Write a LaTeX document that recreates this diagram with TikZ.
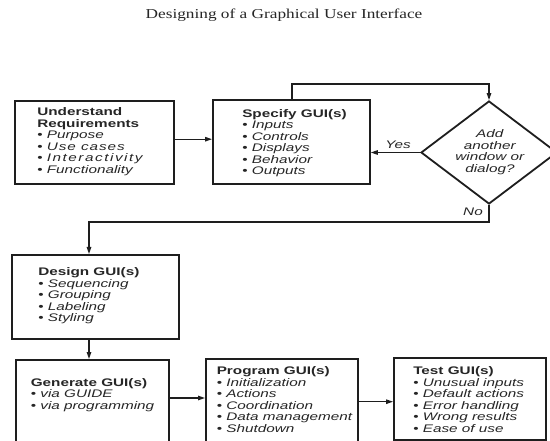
\documentclass[tikz,border=0pt]{standalone}
\usepackage{fontspec}
\setmainfont{Liberation Sans}
\newfontfamily\titlefont{Liberation Serif}
\usetikzlibrary{arrows.meta,shapes.geometric}
\definecolor{ink}{HTML}{1E1E1E}
\definecolor{txtc}{HTML}{262626}
\newcommand{\spaced}[2]{{\itshape\addfontfeature{LetterSpace=#1}#2}}
\begin{document}
\begin{tikzpicture}[x=1bp,y=-1bp,
  box/.style={draw=ink, line width=1.8bp, rectangle, inner sep=0pt, anchor=north west},
  dia/.style={draw=ink, line width=1.8bp, diamond, inner sep=0pt},
  arr/.style={draw=ink, line width=1.2bp, -{Triangle[length=7bp,width=4.5bp]}},
  txt/.style={anchor=north west, inner sep=0pt, align=left, text=txtc, xscale=1.39, transform shape, font=\fontsize{11bp}{11.5bp}\selectfont},
  lbl/.style={inner sep=0pt, text=txtc, xscale=1.39, transform shape, font=\fontsize{11bp}{11.5bp}\selectfont\itshape},
  ]
\useasboundingbox (0,0) rectangle (550,441);
\fill[white] (0,0) rectangle (550,441);
\clip (0,0) rectangle (550,441);

% title
\node[anchor=base, inner sep=0pt, text=txtc, xscale=1.27, transform shape, font=\titlefont\fontsize{13.6bp}{16bp}\selectfont] (title) at (284,19) {Designing of a Graphical User Interface};

% boxes
\node[box, minimum width=159bp, minimum height=83bp] (b1) at (14,100) {};
\node[box, minimum width=157bp, minimum height=84bp] (b2) at (212,99) {};
\node[dia, minimum width=136bp, minimum height=103bp] (d) at (489,152.5) {};
\node[box, minimum width=167bp, minimum height=84bp] (b3) at (11,254) {};
\node[box, minimum width=153bp, minimum height=110bp] (b4) at (15,359) {};
\node[box, minimum width=152bp, minimum height=110bp] (b5) at (205,358) {};
\node[box, minimum width=152bp, minimum height=82bp] (b6) at (393,357) {};

% texts
\node[txt] (t1) at (37,107.5) {\textbf{Understand}\\\textbf{Requirements}\\• \textit{Purpose}\\• \spaced{6}{Use cases}\\• \spaced{10}{Interactivity}\\• \textit{Functionality}};
\node[txt] (t2) at (242,109) {\textbf{Specify GUI(s)}\\• \textit{Inputs}\\• \textit{Controls}\\• \textit{Displays}\\• \textit{Behavior}\\• \textit{Outputs}};
\node[txt, anchor=center, align=center] (t3) at (490,152) {\textit{Add}\\\textit{another}\\\textit{window or}\\\textit{dialog?}};
\node[txt] (t4) at (38,267.5) {\textbf{Design GUI(s)}\\• \textit{Sequencing}\\• \textit{Grouping}\\• \textit{Labeling}\\• \textit{Styling}};
\node[txt] (t5) at (30.5,378) {\textbf{Generate GUI(s)}\\• \textit{via GUIDE}\\• \textit{via programming}};
\node[txt] (t6) at (216.5,366.5) {\textbf{Program GUI(s)}\\• \textit{Initialization}\\• \textit{Actions}\\• \textit{Coordination}\\• \textit{Data management}\\• \textit{Shutdown}};
\node[txt] (t7) at (413,366.5) {\textbf{Test GUI(s)}\\• \textit{Unusual inputs}\\• \textit{Default actions}\\• \textit{Error handling}\\• \textit{Wrong results}\\• \textit{Ease of use}};

% labels
\node[lbl] (yes) at (398,145) {Yes};
\node[lbl] (no) at (473,212) {No};

% connectors
\draw[arr] ([yshift=3.2bp]b1.east) -- ([yshift=3.2bp]b1.east -| b2.west);
\coordinate (lt) at (292,84);
\draw[arr] (lt |- b2.north) -- (lt) -| (d.north);
\draw[arr] (d.west) -- (d.west -| b2.east);
\coordinate (nt) at (89,222);
\draw[arr] (d.south) |- (nt) -- (nt |- b3.north);
\draw[arr] (nt |- b3.south) -- (nt |- b4.north);
\coordinate (r1) at (0,398);
\draw[arr] (b4.east |- r1) -- (b5.west |- r1);
\coordinate (r2) at (0,401.7);
\draw[arr] (b5.east |- r2) -- (b6.west |- r2);
\end{tikzpicture}
\end{document}
